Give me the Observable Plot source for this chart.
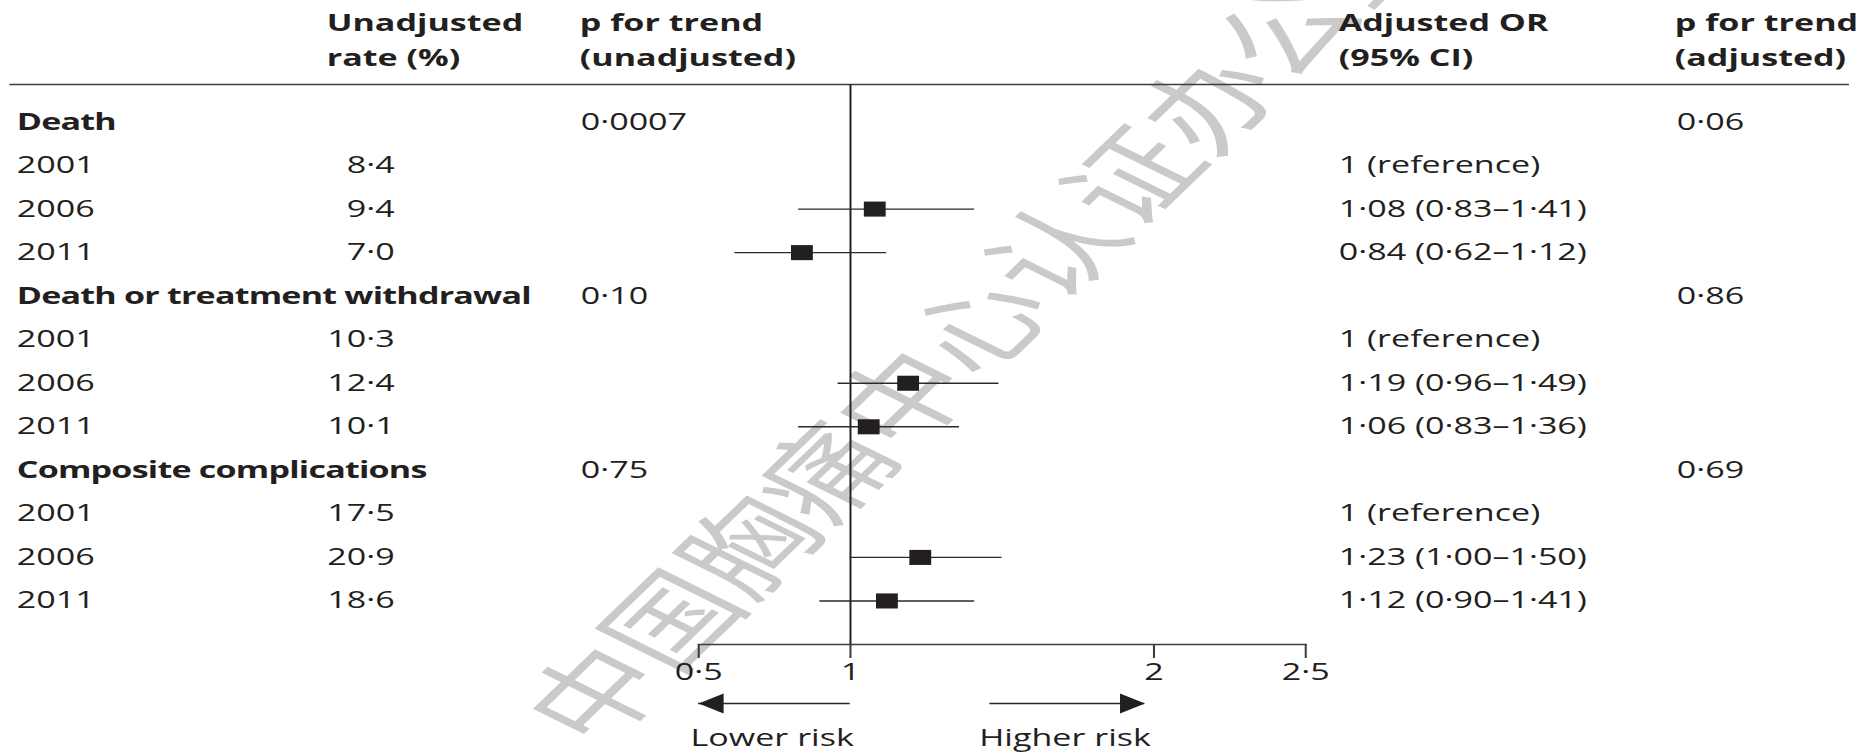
<!DOCTYPE html>
<html>
<head>
<meta charset="utf-8">
<script src="https://cdn.jsdelivr.net/npm/d3@7"></script>
<script src="https://cdn.jsdelivr.net/npm/@observablehq/plot@0.6"></script>
<style>
  html, body { margin: 0; padding: 0; background: #ffffff; }
  #chart { width: 1859px; height: 752px; overflow: hidden; }
</style>
</head>
<body>
<div id="chart"></div>
<script>
// ---------------- data ----------------
const outcomes = ["Death", "Death or treatment withdrawal", "Composite complications"];
const pTrendUnadjusted = ["0·0007", "0·10", "0·75"];
const pTrendAdjusted = ["0·06", "0·86", "0·69"];
const years = ["2001", "2006", "2011"];
const unadjustedRate = [[8.4, 9.4, 7.0], [10.3, 12.4, 10.1], [17.5, 20.9, 18.6]];
const adjustedOR = [[1, 1.08, 0.84], [1, 1.19, 1.06], [1, 1.23, 1.12]];
const ciLower = [[null, 0.83, 0.62], [null, 0.96, 0.83], [null, 1.00, 0.90]];
const ciUpper = [[null, 1.41, 1.12], [null, 1.49, 1.36], [null, 1.50, 1.41]];
const xTicks = [0.5, 1, 2, 2.5];
const headerTexts = ["Unadjusted\nrate (%)", "p for trend\n(unadjusted)", "Adjusted OR\n(95% CI)", "p for trend\n(adjusted)"];
const riskArrows = [{from: 1, to: 0.5}, {from: 1.46, to: 1.97}];
const riskLabels = [{x: 0.742, text: "Lower risk"}, {x: 1.707, text: "Higher risk"}];
const watermark = "中国胸痛中心认证办公室";

// ---------------- layout (reference pixels, stretched horizontally) ----------------
const FULL_W = 1859, H = 752;
const SX = 1.45;                       // horizontal stretch of the reference
const W = Math.round(FULL_W / SX);
const sx = FULL_W / W;
const px = v => v / sx;                // reference x -> viewBox x
const FONT = 23.5;
const INK = "#231f20";
const mL = px(698), mR = W - px(1305);
const mT = 84, mB = H - 644;
const colX = {label: 16, rate: 394, p1: 580, or: 1338, p2: 1676};
const headerX = [326, 579, 1338, 1674];

const dot = s => s.replace(".", "·");

// build table rows
const rows = [];
outcomes.forEach((o, g) => {
  rows.push({kind: "group", label: o, p1: pTrendUnadjusted[g], p2: pTrendAdjusted[g]});
  years.forEach((yr, k) => {
    const or = adjustedOR[g][k], lo = ciLower[g][k], hi = ciUpper[g][k];
    rows.push({
      kind: "year", label: yr,
      rate: dot(unadjustedRate[g][k].toFixed(1)),
      or, lo, hi,
      orText: lo == null ? "1 (reference)" : `${dot(or.toFixed(2))} (${dot(lo.toFixed(2))}–${dot(hi.toFixed(2))})`
    });
  });
});
rows.forEach((r, i) => r.i = i);
const axisRow = rows.length;            // the axis sits one row below the last
const groups = rows.filter(r => r.kind === "group");
const yearRows = rows.filter(r => r.kind === "year");
const estimates = yearRows.filter(r => r.lo != null);
const leftArrows = riskArrows.filter(d => d.to < d.from);
const rightArrows = riskArrows.filter(d => d.to > d.from);

const textAt = (data, key, x, opts = {}) => Plot.text(data, {
  y: "i", text: key, frameAnchor: "left", dx: px(x) - mL,
  textAnchor: "start", fontSize: FONT, fill: INK, ...opts
});

const head = (data, dx, rotate) => Plot.dot(data, {
  x: "to", y: () => axisRow, dy: 59, dx, symbol: "triangle", r: 7.4,
  fill: INK, stroke: null, rotate
});

const marks = [
  // watermark
  Plot.text([watermark], {
    text: d => d, frameAnchor: "top-left", dx: px(942) - mL, dy: 306 - mT,
    rotate: -54.4, fontSize: 91, fill: "#cacaca", textAnchor: "middle",
    fontFamily: "Noto Sans CJK SC"
  }),
  // header rule and axis line
  Plot.frame({anchor: "top", insetLeft: -(mL - px(10)), insetRight: -(mR - px(12)), stroke: "#3c3c3c", strokeWidth: 1.7}),
  Plot.frame({anchor: "bottom", stroke: "#3c3c3c", strokeWidth: 1.4}),
  Plot.ruleX([1], {stroke: INK, strokeWidth: 1.35}),
  // confidence intervals and estimates
  Plot.ruleY(estimates, {y: "i", x1: "lo", x2: "hi", stroke: "#2a2a2a", strokeWidth: 1.35}),
  Plot.dot(estimates, {x: "or", y: "i", symbol: "square", r: 8.5, fill: INK, stroke: null}),
  // table text
  ...headerTexts.map((t, k) => Plot.text([t], {
    text: d => d, frameAnchor: "top-left", dx: px(headerX[k]) - mL, dy: 65 - mT,
    textAnchor: "start", lineAnchor: "bottom", lineHeight: 1.46,
    fontSize: FONT, fontWeight: "bold", fill: INK
  })),
  textAt(groups, "label", colX.label, {fontWeight: "bold"}),
  textAt(yearRows, "label", colX.label),
  textAt(yearRows, "rate", colX.rate, {textAnchor: "end"}),
  textAt(groups, "p1", colX.p1),
  textAt(yearRows, "orText", colX.or),
  textAt(groups, "p2", colX.p2),
  // x axis
  Plot.axisX(xTicks, {
    anchor: "bottom", tickSize: 14, tickPadding: 5, label: null,
    tickFormat: d => dot(String(d)), fontSize: FONT, stroke: "#3c3c3c", strokeWidth: 1.4, fill: INK
  }),
  // risk arrows and labels
  Plot.ruleY(riskArrows, {y: () => axisRow, dy: 59, x1: "from", x2: "to", stroke: "#2a2a2a", strokeWidth: 1.35}),
  head(leftArrows, 11.4, -90),
  head(rightArrows, -11.4, 90),
  Plot.text(riskLabels, {x: "x", y: () => axisRow, dy: 94, text: "text", fontSize: FONT, fill: INK})
];

const svg = Plot.plot({
  width: W, height: H,
  marginLeft: mL, marginRight: mR, marginTop: mT, marginBottom: mB,
  x: {type: "linear", domain: [0.5, 2.5], label: null, axis: null},
  y: {type: "linear", domain: [0, axisRow], range: [121.5, 644], axis: null, label: null},
  style: {fontFamily: "'Open Sans', sans-serif", color: INK, background: "#ffffff", overflow: "hidden"},
  marks
});
// the bold outcome labels are set a little tighter in the reference
d3.select(svg).selectAll("text")
  .filter(function () { return outcomes.includes(this.textContent); })
  .style("letter-spacing", "-0.55px");
svg.setAttribute("width", FULL_W);
svg.setAttribute("height", H);
svg.setAttribute("preserveAspectRatio", "none");
svg.style.maxWidth = "none";
svg.style.width = FULL_W + "px";
svg.style.height = H + "px";
document.getElementById("chart").appendChild(svg);
</script>
</body>
</html>
